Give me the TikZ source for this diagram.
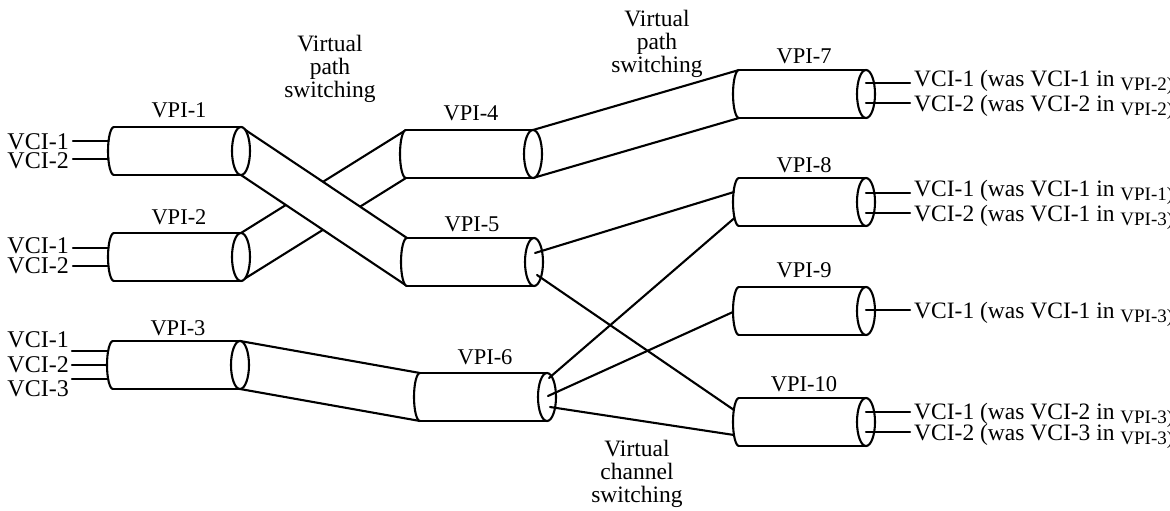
\documentclass[tikz,border=0pt]{standalone}
\usepackage{fontspec}
\setmainfont{Liberation Serif}
\usetikzlibrary{calc}
\pgfdeclarelayer{bg}
\pgfsetlayers{bg,main}
\newcommand\lowtxt[1]{\raisebox{-4pt}{\fontsize{19}{19}\selectfont #1}}
\tikzset{
  ln/.style={line width=2.1pt, line join=round, line cap=round},
  lbl/.style={inner sep=0pt, font=\fontsize{22.5}{23}\selectfont},
  vci/.style={inner sep=0pt, font=\fontsize{24}{24}\selectfont},
  outl/.style={inner sep=0pt, anchor=base west, font=\fontsize{23.5}{24}\selectfont},
  sw/.style={inner sep=0pt, align=center, anchor=north, font=\fontsize{23.5}{23}\selectfont},
  tubefill/.style={fill=white},
  pics/cyl/.style={code={
    \fill[white] (0,24) -- (127,24) arc[start angle=90,end angle=-90,x radius=9,y radius=24]
       -- (0,-24) arc[start angle=270,end angle=90,x radius=6,y radius=24] -- cycle;
    \draw[ln] (0,24) -- (127,24) (0,-24) -- (127,-24);
    \draw[ln] (0,-24) arc[start angle=270,end angle=90,x radius=6,y radius=24];
    \draw[ln] (127,0) ellipse[x radius=9,y radius=24];
    \coordinate (-tl) at (0,24);
    \coordinate (-bl) at (0,-24);
    \coordinate (-tr) at (127,24);
    \coordinate (-br) at (127,-24);
    \coordinate (-c) at (127,0);
    \coordinate (-w) at (-6,0);
  }}
}
\begin{document}
\begin{tikzpicture}[x=1pt,y=1pt]
\useasboundingbox (0,0) rectangle (1170,-511);

% cylinders (virtual paths)
\pic (v1) at (114,-151) {cyl};
\pic (v2) at (114,-257) {cyl};
\pic (v3) at (113,-365) {cyl};
\pic (v4) at (406,-154) {cyl};
\pic (v5) at (407,-262) {cyl};
\pic (v6) at (420,-397) {cyl};
\pic (v7) at (739,-94) {cyl};
\pic (v8) at (739,-202) {cyl};
\pic (v9) at (739,-311) {cyl};
\pic (v10) at (739,-422) {cyl};

% tubes between cylinders (behind)
\begin{pgfonlayer}{bg}
  \fill[tubefill] (v2-tr) -- (v4-tl) -- (v4-bl) -- (v2-br) -- cycle;
  \draw[ln] (v2-tr) -- (v4-tl) (v2-br) -- (v4-bl);
  \fill[tubefill] (v1-tr) -- (v5-tl) -- (v5-bl) -- (v1-br) -- cycle;
  \draw[ln] (v1-tr) -- (v5-tl) (v1-br) -- (v5-bl);
  \fill[tubefill] (v4-tr) -- (v7-tl) -- (v7-bl) -- (v4-br) -- cycle;
  \draw[ln] (v4-tr) -- (v7-tl) (v4-br) -- (v7-bl);
  \fill[tubefill] (v3-tr) -- (v6-tl) -- (v6-bl) -- (v3-br) -- cycle;
  \draw[ln] (v3-tr) -- (v6-tl) (v3-br) -- (v6-bl);
\end{pgfonlayer}

% virtual channel connections
\draw[ln] ($(v5-c)+(1,9)$) -- ($(v8-w)+(1,10)$);
\draw[ln] ($(v5-c)+(3,-13)$) -- ($(v10-w)+(1,12)$);
\draw[ln] ($(v6-c)+(2,19)$) -- ($(v8-w)+(1.5,-16)$);
\draw[ln] ($(v6-c)+(1,1)$) -- ($(v9-w)+(0,-1)$);
\draw[ln] ($(v6-c)+(3,-10)$) -- ($(v10-w)+(1,-13)$);

% input channels
\draw[ln] ($(v1-w)+(-35,10)$) -- ($(v1-w)+(0.6,10)$);
\draw[ln] ($(v1-w)+(-35,-8)$) -- ($(v1-w)+(0.6,-8)$);
\draw[ln] ($(v2-w)+(-35,9)$) -- ($(v2-w)+(0.6,9)$);
\draw[ln] ($(v2-w)+(-35,-9)$) -- ($(v2-w)+(0.6,-9)$);
\draw[ln] ($(v3-w)+(-35,14)$) -- ($(v3-w)+(1,14)$);
\draw[ln] ($(v3-w)+(-35,0)$) -- ($(v3-w)+(0,0)$);
\draw[ln] ($(v3-w)+(-35,-14)$) -- ($(v3-w)+(1,-14)$);

% output channels
\draw[ln] ($(v7-c)+(0,11)$) -- ($(v7-c)+(44,11)$);
\draw[ln] ($(v7-c)+(0,-9)$) -- ($(v7-c)+(44,-9)$);
\draw[ln] ($(v8-c)+(0,9)$) -- ($(v8-c)+(44,9)$);
\draw[ln] ($(v8-c)+(0,-11)$) -- ($(v8-c)+(44,-11)$);
\draw[ln] ($(v9-c)+(0,1)$) -- ($(v9-c)+(44,1)$);
\draw[ln] ($(v10-c)+(0,10)$) -- ($(v10-c)+(44,10)$);
\draw[ln] ($(v10-c)+(0,-10)$) -- ($(v10-c)+(44,-10)$);

% VPI labels
\node[lbl] (l1) at (179,-110.5) {VPI-1};
\node[lbl] (l2) at (179,-217) {VPI-2};
\node[lbl] (l3) at (178,-328.5) {VPI-3};
\node[lbl] (l4) at (471,-113) {VPI-4};
\node[lbl] (l5) at (472,-224.5) {VPI-5};
\node[lbl] (l6) at (485,-357.5) {VPI-6};
\node[lbl] (l7) at (804,-56) {VPI-7};
\node[lbl] (l8) at (804,-165) {VPI-8};
\node[lbl] (l9) at (804,-270.5) {VPI-9};
\node[lbl] (l10) at (804,-384.5) {VPI-10};

% input labels
\node[vci,anchor=east] (i11) at (69,-142) {VCI-1};
\node[vci,anchor=east] (i12) at (69,-160.5) {VCI-2};
\node[vci,anchor=east] (i21) at (69,-246) {VCI-1};
\node[vci,anchor=east] (i22) at (69,-266) {VCI-2};
\node[vci,anchor=east] (i31) at (69,-340) {VCI-1};
\node[vci,anchor=east] (i32) at (69,-365) {VCI-2};
\node[vci,anchor=east] (i33) at (69,-389) {VCI-3};

% output labels
\node[outl] (o71) at (914,-86.5) {VCI-1 (was VCI-1 in \lowtxt{VPI-2)}};
\node[outl] (o72) at (914,-111.5) {VCI-2 (was VCI-2 in \lowtxt{VPI-2)}};
\node[outl] (o81) at (914,-196.5) {VCI-1 (was VCI-1 in \lowtxt{VPI-1)}};
\node[outl] (o82) at (914,-221.5) {VCI-2 (was VCI-1 in \lowtxt{VPI-3)}};
\node[outl] (o91) at (914,-318.5) {VCI-1 (was VCI-1 in \lowtxt{VPI-3)}};
\node[outl] (o101) at (914,-419.5) {VCI-1 (was VCI-2 in \lowtxt{VPI-3)}};
\node[outl] (o102) at (914,-440) {VCI-2 (was VCI-3 in \lowtxt{VPI-3)}};

% switching labels
\node[sw] (s1) at (330,-35) {Virtual\\path\\switching};
\node[sw] (s2) at (657,-10) {Virtual\\path\\switching};
\node[sw] (s3) at (637,-440) {Virtual\\channel\\switching};
\end{tikzpicture}
\end{document}
